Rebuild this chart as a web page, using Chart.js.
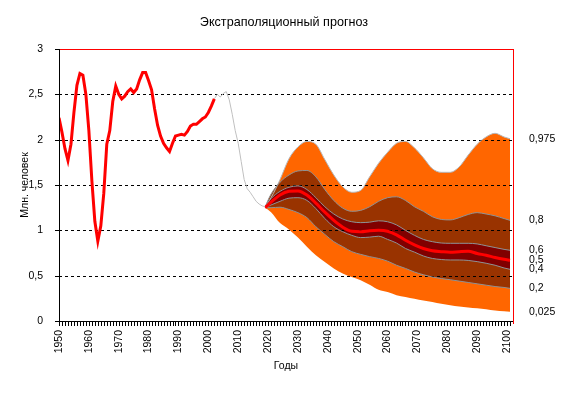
<!DOCTYPE html>
<html lang="ru">
<head>
<meta charset="utf-8">
<title>Экстраполяционный прогноз</title>
<script src="https://cdn.jsdelivr.net/npm/chart.js@4/dist/chart.umd.min.js"></script>
<style>
    html, body { margin: 0; padding: 0; background: #fff; }
    canvas { display: block; }
</style>
</head>
<body>
<canvas id="graficoPrognoz" width="568" height="393"></canvas>
<script>
        // Dados históricos (linha vermelha)
        const anosHistoricos = [1950, 1951, 1952, 1953, 1954, 1955, 1956, 1957, 1958, 1959,
            1960, 1961, 1962, 1963, 1964, 1965, 1966, 1967, 1968, 1969,
            1970, 1971, 1972, 1973, 1974, 1975, 1976, 1977, 1978, 1979,
            1980, 1981, 1982, 1983, 1984, 1985, 1986, 1987, 1988, 1989,
            1990, 1991, 1992, 1993, 1994, 1995, 1996, 1997, 1998, 1999,
            2000, 2001, 2002];
        const valoresHistoricos = [2.24, 2.08, 1.90, 1.77, 1.95, 2.30, 2.60, 2.73, 2.71, 2.50,
            2.10, 1.55, 1.10, 0.88, 1.05, 1.41, 1.95, 2.10, 2.42, 2.59,
            2.50, 2.45, 2.48, 2.53, 2.56, 2.52, 2.56, 2.66, 2.74, 2.74,
            2.65, 2.55, 2.34, 2.16, 2.04, 1.96, 1.91, 1.87, 1.96, 2.04,
            2.05, 2.06, 2.05, 2.09, 2.15, 2.17, 2.17, 2.20, 2.23, 2.25,
            2.30, 2.37, 2.45];

        // Trecho cinza entre os dados e a previsão
        const anosTransicao = [2002, 2003, 2004, 2005, 2006, 2007, 2008, 2009, 2010, 2011,
            2012, 2013, 2014, 2015, 2016, 2017, 2018, 2019];
        const valoresTransicao = [2.45, 2.50, 2.47, 2.51, 2.53, 2.44, 2.28, 2.10, 1.96, 1.76,
            1.56, 1.46, 1.42, 1.37, 1.32, 1.29, 1.27, 1.26];

        // Leque da previsão (quantis)
        const anosPrevisao = [2019, 2021, 2024, 2027, 2030, 2033, 2036, 2039, 2042, 2045,
            2048, 2051, 2054, 2057, 2060, 2063, 2066, 2069, 2072, 2075,
            2078, 2081, 2084, 2087, 2090, 2093, 2096, 2099, 2101];
        const quantil975 = [1.26, 1.36, 1.56, 1.79, 1.92, 1.98, 1.95, 1.78, 1.61, 1.48,
            1.42, 1.44, 1.59, 1.74, 1.86, 1.96, 1.98, 1.91, 1.80, 1.68,
            1.64, 1.64, 1.70, 1.83, 1.95, 2.03, 2.07, 2.03, 2.01];
        const quantil80 = [1.26, 1.40, 1.53, 1.61, 1.655, 1.66, 1.59, 1.45, 1.33, 1.245,
            1.21, 1.22, 1.26, 1.32, 1.36, 1.37, 1.33, 1.26, 1.21, 1.15,
            1.12, 1.115, 1.14, 1.175, 1.195, 1.18, 1.16, 1.13, 1.11];
        const quantil60 = [1.26, 1.35, 1.43, 1.475, 1.49, 1.45, 1.36, 1.26, 1.18, 1.125,
            1.095, 1.085, 1.09, 1.105, 1.095, 1.06, 1.00, 0.945, 0.90, 0.875,
            0.86, 0.857, 0.857, 0.857, 0.85, 0.83, 0.81, 0.79, 0.78];
        const quantil50 = [1.25, 1.31, 1.39, 1.43, 1.435, 1.39, 1.30, 1.20, 1.11, 1.035,
            0.99, 0.985, 0.995, 1.00, 0.99, 0.95, 0.89, 0.84, 0.80, 0.775,
            0.765, 0.758, 0.765, 0.77, 0.745, 0.725, 0.70, 0.68, 0.67];
        const quantil40 = [1.25, 1.28, 1.32, 1.355, 1.36, 1.33, 1.24, 1.13, 1.04, 0.985,
            0.945, 0.92, 0.925, 0.935, 0.90, 0.86, 0.80, 0.76, 0.717, 0.69,
            0.678, 0.673, 0.673, 0.668, 0.655, 0.637, 0.615, 0.585, 0.57];
        const quantil20 = [1.25, 1.25, 1.255, 1.23, 1.195, 1.14, 1.04, 0.955, 0.875, 0.82,
            0.765, 0.735, 0.71, 0.69, 0.66, 0.615, 0.58, 0.54, 0.51, 0.485,
            0.468, 0.455, 0.44, 0.425, 0.41, 0.395, 0.38, 0.37, 0.36];
        const quantil025 = [1.25, 1.20, 1.08, 1.01, 0.92, 0.82, 0.725, 0.65, 0.58, 0.525,
            0.485, 0.45, 0.40, 0.345, 0.32, 0.285, 0.265, 0.245, 0.225, 0.21,
            0.19, 0.175, 0.16, 0.15, 0.14, 0.13, 0.115, 0.107, 0.103];

        // Rótulos à direita de cada quantil
        const rotulosQuantis = ['0,975', '0,8', '0,6', '0,5', '0,4', '0,2', '0,025'];

        const fonte = 'Arial, "Liberation Sans", sans-serif';

        function pontos(anos, valores) {
            return anos.map((ano, i) => ({ x: ano, y: valores[i] }));
        }

        // Plugin: título, grade tracejada, eixos e rótulos dos quantis
        const decoracao = {
            id: 'decoracao',
            beforeDatasetsDraw(chart) {
                const { ctx, chartArea: area, scales: { y } } = chart;
                ctx.save();
                ctx.strokeStyle = '#000';
                ctx.lineWidth = 1;
                ctx.setLineDash([3, 3]);
                y.ticks.forEach(t => {
                    if (t.value <= 0 || t.value >= 3) return;
                    const py = Math.round(y.getPixelForValue(t.value)) + 0.5;
                    ctx.beginPath();
                    ctx.moveTo(area.left, py);
                    ctx.lineTo(area.right, py);
                    ctx.stroke();
                });
                ctx.restore();
            },
            afterDraw(chart) {
                const { ctx, chartArea: area, scales: { x, y } } = chart;
                const esq = Math.round(area.left);
                const dir = Math.round(area.right);
                const topo = Math.round(area.top);
                const base = Math.round(area.bottom);
                ctx.save();
                // bordas vermelhas (topo e direita)
                ctx.fillStyle = '#FF0000';
                ctx.fillRect(esq, topo, dir - esq + 1, 1);
                ctx.fillRect(dir, topo, 1, base - topo + 3);
                // eixos pretos
                ctx.fillStyle = '#000';
                ctx.fillRect(esq, topo, 1, base - topo + 1);
                ctx.fillRect(esq, base, dir - esq, 1);
                // marcas do eixo Y
                y.ticks.forEach(t => {
                    const py = Math.round(y.getPixelForValue(t.value));
                    ctx.fillRect(esq - 4, py, 4, 1);
                });
                // marcas anuais do eixo X
                for (let ano = x.min; ano <= 2101; ano++) {
                    const px = Math.round(x.getPixelForValue(ano));
                    ctx.fillRect(px, base, 1, 5);
                }
                // título
                ctx.font = '12.6px ' + fonte;
                ctx.textAlign = 'center';
                ctx.textBaseline = 'middle';
                ctx.fillText('Экстраполяционный прогноз', chart.width / 2, 23);
                // rótulos dos quantis, na altura do último valor de cada série
                const finais = [quantil975, quantil80, quantil60, quantil50, quantil40, quantil20, quantil025]
                    .map(serie => serie[serie.length - 1]);
                ctx.font = '10.5px ' + fonte;
                ctx.textAlign = 'left';
                finais.forEach((v, i) => {
                    ctx.fillText(rotulosQuantis[i], area.right + 16, y.getPixelForValue(v));
                });
                ctx.restore();
            }
        };

        const bordaCinza = '#8E9296';

        var ctx = document.getElementById('graficoPrognoz').getContext('2d');
        var graficoPrognoz = new Chart(ctx, {
            type: 'line',
            data: {
                datasets: [
                    {
                        label: 'Факт',
                        data: pontos(anosHistoricos, valoresHistoricos),
                        borderColor: '#FF0000',
                        borderWidth: 3,
                        pointRadius: 0,
                        tension: 0,
                        fill: false
                    },
                    {
                        label: 'Переход',
                        data: pontos(anosTransicao, valoresTransicao),
                        borderColor: '#C0C0C0',
                        borderWidth: 1,
                        pointRadius: 0,
                        tension: 0,
                        fill: false
                    },
                    {
                        label: '0,5',
                        data: pontos(anosPrevisao, quantil50),
                        borderColor: '#FF0000',
                        borderWidth: 3,
                        pointRadius: 0,
                        cubicInterpolationMode: 'monotone',
                        fill: false
                    },
                    {
                        label: '0,6',
                        data: pontos(anosPrevisao, quantil60),
                        borderColor: bordaCinza,
                        borderWidth: 1,
                        pointRadius: 0,
                        cubicInterpolationMode: 'monotone',
                        backgroundColor: '#800000',
                        fill: '+1'
                    },
                    {
                        label: '0,4',
                        data: pontos(anosPrevisao, quantil40),
                        borderColor: bordaCinza,
                        borderWidth: 1,
                        pointRadius: 0,
                        cubicInterpolationMode: 'monotone',
                        fill: false
                    },
                    {
                        label: '0,8',
                        data: pontos(anosPrevisao, quantil80),
                        borderColor: bordaCinza,
                        borderWidth: 1,
                        pointRadius: 0,
                        cubicInterpolationMode: 'monotone',
                        backgroundColor: '#993300',
                        fill: '+1'
                    },
                    {
                        label: '0,2',
                        data: pontos(anosPrevisao, quantil20),
                        borderColor: bordaCinza,
                        borderWidth: 1,
                        pointRadius: 0,
                        cubicInterpolationMode: 'monotone',
                        fill: false
                    },
                    {
                        label: '0,975',
                        data: pontos(anosPrevisao, quantil975),
                        borderColor: '#B4B8BC',
                        borderWidth: 1,
                        pointRadius: 0,
                        cubicInterpolationMode: 'monotone',
                        backgroundColor: '#FF6600',
                        fill: '+1'
                    },
                    {
                        label: '0,025',
                        data: pontos(anosPrevisao, quantil025),
                        borderWidth: 0,
                        borderColor: '#FF6600',
                        pointRadius: 0,
                        cubicInterpolationMode: 'monotone',
                        fill: false
                    }
                ]
            },
            options: {
                responsive: false,
                animation: false,
                layout: { padding: { top: 49, right: 55, left: 0, bottom: 0 } },
                plugins: {
                    legend: { display: false },
                    title: { display: false },
                    tooltip: { enabled: false },
                    filler: { drawTime: 'beforeDatasetsDraw' }
                },
                scales: {
                    x: {
                        type: 'linear',
                        min: 1950,
                        max: 2102,
                        grid: { display: false },
                        border: { display: false },
                        ticks: {
                            stepSize: 10,
                            includeBounds: false,
                            autoSkip: false,
                            minRotation: 90,
                            maxRotation: 90,
                            padding: 1,
                            color: '#000',
                            font: { family: fonte, size: 10.5 },
                            callback: v => (v % 10 === 0 && v <= 2100) ? String(v) : ''
                        },
                        title: {
                            display: true,
                            text: 'Годы',
                            color: '#000',
                            font: { family: fonte, size: 10.5 },
                            padding: { top: 0, bottom: 21 }
                        },
                        afterFit: scale => { scale.height = 72; }
                    },
                    // eixo superior só para a borda vermelha
                    xTopo: {
                        type: 'linear',
                        position: 'top',
                        min: 1950,
                        max: 2102,
                        grid: { display: false, drawTicks: false },
                        ticks: { display: false },
                        border: { display: true, color: '#FF0000', width: 1 },
                        afterFit: scale => { scale.height = 0; }
                    },
                    y: {
                        min: 0,
                        max: 3,
                        grid: { display: false },
                        border: { display: false },
                        ticks: {
                            stepSize: 0.5,
                            padding: 8,
                            color: '#000',
                            font: { family: fonte, size: 10.5 },
                            callback: v => String(v).replace('.', ',')
                        },
                        title: {
                            display: true,
                            text: 'Млн. человек',
                            color: '#000',
                            font: { family: fonte, size: 10.5 },
                            padding: { top: 19, bottom: 0 }
                        },
                        afterFit: scale => { scale.width = 59; }
                    },
                    // eixo direito só para a borda vermelha
                    yDir: {
                        position: 'right',
                        min: 0,
                        max: 3,
                        grid: { display: false, drawTicks: false },
                        ticks: { display: false },
                        border: { display: true, color: '#FF0000', width: 1 },
                        afterFit: scale => { scale.width = 0; }
                    }
                }
            },
            plugins: [decoracao]
        });
</script>
</body>
</html>
